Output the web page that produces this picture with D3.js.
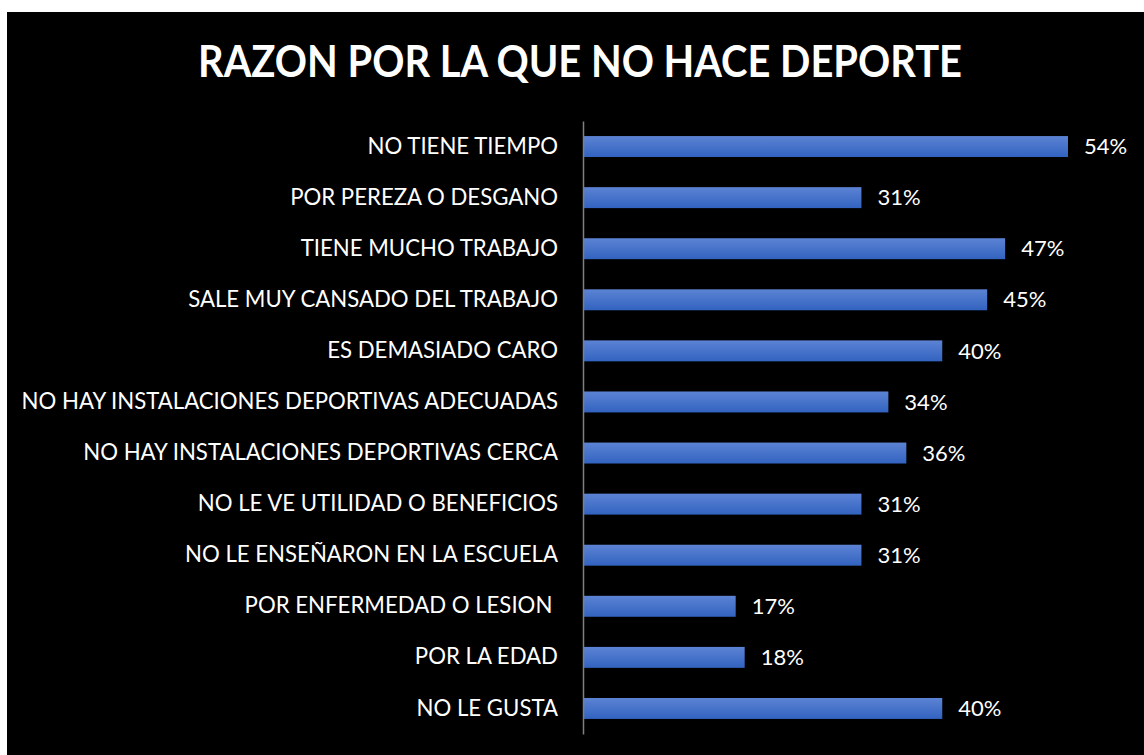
<!DOCTYPE html>
<html><head><meta charset="utf-8">
<script src="https://cdn.jsdelivr.net/npm/d3@7"></script>
<style>html,body{margin:0;padding:0;background:#fff;}svg{display:block;}text{white-space:pre;}</style>
</head><body>
<script>
const categories = ["NO TIENE TIEMPO","POR PEREZA O DESGANO","TIENE MUCHO TRABAJO","SALE MUY CANSADO DEL TRABAJO","ES DEMASIADO CARO","NO HAY INSTALACIONES DEPORTIVAS ADECUADAS","NO HAY INSTALACIONES DEPORTIVAS CERCA","NO LE VE UTILIDAD O BENEFICIOS","NO LE ENSEÑARON EN LA ESCUELA","POR ENFERMEDAD O LESION ","POR LA EDAD","NO LE GUSTA"];
const values = [54,31,47,45,40,34,36,31,31,17,18,40];
const title = "RAZON POR LA QUE NO HACE DEPORTE";

const W = 1144, H = 755;
const svg = d3.select("body").append("svg").attr("width", W).attr("height", H);
svg.append("rect").attr("x",7).attr("y",12).attr("width",W-7).attr("height",H-12).attr("fill","#000");

const defs = svg.append("defs");
const g = defs.append("linearGradient").attr("id","bg").attr("x1",0).attr("y1",0).attr("x2",0).attr("y2",1);
g.append("stop").attr("offset","0%").attr("stop-color","#5c83d4");
g.append("stop").attr("offset","100%").attr("stop-color","#3263c0");

const x0 = 583;
const x = d3.scaleLinear().domain([0,54]).range([x0, 1068]);
const y = d3.scaleBand().domain(categories).range([121,734]).paddingInner(0.59).paddingOuter(0.295);

svg.append("text").attr("x",580).attr("y",77).attr("text-anchor","middle")
  .attr("fill","#fff").attr("font-family","Lato, 'Open Sans', sans-serif").attr("font-weight","bold")
  .attr("font-size",43).attr("textLength",764).attr("lengthAdjust","spacingAndGlyphs").text(title);

svg.selectAll("rect.bar").data(values).enter().append("rect").attr("class","bar")
  .attr("x", x0).attr("y",(d,i)=>y(categories[i]))
  .attr("width", d=>x(d)-x0).attr("height", y.bandwidth()).attr("fill","url(#bg)");

const yAxis = d3.axisLeft(y).tickSize(0).tickPadding(25);
const ax = svg.append("g").attr("transform",`translate(${x0},0)`).call(yAxis);
ax.select(".domain").attr("stroke","#808080").attr("stroke-width",1.5);
ax.selectAll("text").attr("fill","#fff").attr("font-family","Lato, 'Open Sans', sans-serif").attr("font-size",22.2);

svg.selectAll("text.val").data(values).enter().append("text").attr("class","val")
  .attr("x", d=>x(d)+16).attr("y",(d,i)=>y(categories[i])+y.bandwidth()/2)
  .attr("dy","0.35em").attr("fill","#fff").attr("font-family","Lato, 'Open Sans', sans-serif").attr("font-size",22)
  .text(d=>d+"%");
</script>
</body></html>
